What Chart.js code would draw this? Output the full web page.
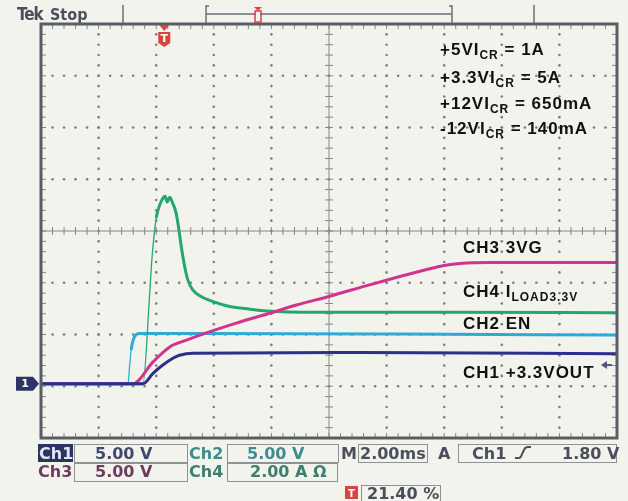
<!DOCTYPE html>
<html>
<head>
<meta charset="utf-8">
<script src="https://cdn.jsdelivr.net/npm/chart.js@4"></script>
<style>
  html, body { margin: 0; padding: 0; background: #f3f3ee; }
  #wrap { width: 628px; height: 501px; }
</style>
</head>
<body>
<div id="wrap"><canvas id="scope" width="628" height="501"></canvas></div>
<script>
// Captura del osciloscopio: tiempo en ms (2 ms/div), nivel en divisiones desde el centro
const groundLevel = -2.95;

const ch1Time  = [0, 3.54, 3.89, 4.23, 4.58, 4.81, 5.28, 11.07, 20];
const ch1Level = [-2.95, -2.95, -2.75, -2.59, -2.46, -2.40, -2.36, -2.35, -2.37];

const ch2Time  = [0, 3.02, 3.08, 3.13, 3.25, 3.42, 5.51, 12.46, 20];
const ch2Level = [-2.95, -2.95, -2.59, -2.30, -2.04, -1.98, -1.98, -1.99, -2.01];

const ch3Time  = [0, 3.19, 3.89, 4.47, 5.05, 5.74, 6.78, 8.00, 8.87, 10.03, 11.28, 12.46, 13.36, 13.95, 14.54, 15.59, 20];
const ch3Level = [-2.95, -2.95, -2.53, -2.24, -2.11, -1.97, -1.78, -1.58, -1.43, -1.26, -1.06, -0.88, -0.75, -0.67, -0.63, -0.61, -0.61];

const ch4Time  = [0, 3.54, 3.77, 3.84, 3.91, 4.00, 4.12, 4.24, 4.31, 4.38, 4.47, 4.57, 4.69, 4.79, 4.87, 4.99, 5.10, 5.27, 5.57, 5.86, 6.55, 7.25, 8.00, 9.99, 14.20, 20];
const ch4Level = [-2.95, -2.95, -1.24, -0.62, -0.17, 0.25, 0.50, 0.64, 0.67, 0.56, 0.65, 0.54, 0.35, 0.02, -0.30, -0.69, -0.95, -1.14, -1.27, -1.34, -1.46, -1.51, -1.55, -1.57, -1.57, -1.58];

// Textos de la pantalla
const limitLabels = [
    ["+5VI", "CR", " = 1A"],
    ["+3.3VI", "CR", " = 5A"],
    ["+12VI", "CR", " = 650mA"],
    ["-12VI", "CR", " = 140mA"]
];
const traceLabels = [
    ["CH3 3VG", "", ""],
    ["CH4 I", "LOAD3.3V", ""],
    ["CH2 EN", "", ""],
    ["CH1 +3.3VOUT", "", ""]
];
const statusRow1 = ["Ch1", "5.00 V", "Ch2", "5.00 V", "M", "2.00ms", "A", "Ch1", "1.80 V"];
const statusRow2 = ["Ch3", "5.00 V", "Ch4", "2.00 A \u03A9"];
const triggerPercent = 21.40;
const triggerVolts = 1.80;
const ch1VoltsPerDiv = 5;

function toPoints(times, levels) {
    return times.map((t, i) => ({ x: t, y: levels[i] }));
}

// Línea fina en los flancos rápidos de subida
function edgeWidth(ctx) {
    const dx = Math.abs(ctx.p1.x - ctx.p0.x);
    const dy = ctx.p0.y - ctx.p1.y;
    return (dy > 15 && dy > 3 * dx) ? 1.3 : undefined;
}

const FONT_LABEL = '"Liberation Sans", Arial, sans-serif';
const FONT_STATUS = '"DejaVu Sans", sans-serif';

function drawParts(ctx, parts, x, y, size, subSize) {
    ctx.save();
    ctx.letterSpacing = "1px";
    ctx.fillStyle = "#111";
    ctx.textBaseline = "alphabetic";
    ctx.textAlign = "left";
    parts.forEach((t, i) => {
        if (!t) return;
        const sub = i === 1;
        ctx.font = `bold ${sub ? subSize : size}px ${FONT_LABEL}`;
        ctx.fillText(t, x, y + (sub ? 4 : 0));
        x += ctx.measureText(t).width;
    });
    ctx.restore();
}

// Fondo y retícula del osciloscopio
const graticule = {
    id: "graticule",
    beforeDraw(chart) {
        const c = chart.ctx;
        c.save();
        c.fillStyle = "#f3f3ee";
        c.fillRect(0, 0, chart.width, chart.height);
        c.restore();
    },
    beforeDatasetsDraw(chart) {
        const c = chart.ctx;
        const xs = chart.scales.x, ys = chart.scales.y;
        const a = chart.chartArea;
        c.save();
        // puntos de la cuadrícula
        c.fillStyle = "#7d7d7d";
        const dot = (px, py) => {
            c.beginPath();
            c.arc(px, py, 1.3, 0, Math.PI * 2);
            c.fill();
        };
        for (let k = 1; k < 10; k++) {
            if (k === 5) continue;
            const px = xs.getPixelForValue(k * 2);
            for (let m = 1; m < 40; m++) dot(px, ys.getPixelForValue(-4 + m * 0.2));
        }
        for (let k = -3; k <= 3; k++) {
            if (k === 0) continue;
            const py = ys.getPixelForValue(k);
            for (let m = 1; m < 50; m++) dot(xs.getPixelForValue(m * 0.4), py);
        }
        // ejes centrales con marcas
        const cx = xs.getPixelForValue(10), cy = ys.getPixelForValue(0);
        c.strokeStyle = "#858585";
        c.lineWidth = 1;
        c.beginPath();
        c.moveTo(a.left, cy); c.lineTo(a.right, cy);
        c.moveTo(cx, a.top); c.lineTo(cx, a.bottom);
        for (let m = 1; m < 50; m++) {
            const px = xs.getPixelForValue(m * 0.4);
            c.moveTo(px, cy - 4); c.lineTo(px, cy + 4);
            c.moveTo(px, a.top); c.lineTo(px, a.top + 5);
            c.moveTo(px, a.bottom); c.lineTo(px, a.bottom - 5);
        }
        for (let m = 1; m < 40; m++) {
            const py = ys.getPixelForValue(-4 + m * 0.2);
            c.moveTo(cx - 4, py); c.lineTo(cx + 4, py);
            c.moveTo(a.left, py); c.lineTo(a.left + 5, py);
            c.moveTo(a.right, py); c.lineTo(a.right - 5, py);
        }
        c.stroke();
        c.restore();
    },
    afterDatasetsDraw(chart) {
        const c = chart.ctx;
        const a = chart.chartArea;
        const ys = chart.scales.y;
        c.save();
        // marco
        c.strokeStyle = "#5a5d63";
        c.lineWidth = 3;
        c.strokeRect(a.left, a.top, a.right - a.left, a.bottom - a.top);

        // textos de límites de corriente
        const limitY = [55, 83, 109, 134];
        limitLabels.forEach((p, i) => drawParts(c, p, 440, limitY[i], 17, 12));
        // etiquetas de canales
        const traceY = [253, 297, 329, 378];
        traceLabels.forEach((p, i) => drawParts(c, p, 463, traceY[i], 17, 12));

        // nivel de disparo (flecha a la derecha)
        const ty = ys.getPixelForValue(groundLevel + triggerVolts / ch1VoltsPerDiv);
        c.fillStyle = "#4b5787";
        c.strokeStyle = "#4b5787";
        c.lineWidth = 2;
        c.beginPath();
        c.moveTo(601, ty); c.lineTo(607, ty - 4); c.lineTo(607, ty + 4); c.closePath();
        c.fill();
        c.beginPath();
        c.moveTo(606, ty); c.lineTo(612, ty);
        c.stroke();

        // marcador de tierra del canal 1
        const gy = ys.getPixelForValue(groundLevel);
        c.fillStyle = "#2c3566";
        c.beginPath();
        c.moveTo(16, gy - 7); c.lineTo(33, gy - 7); c.lineTo(39, gy);
        c.lineTo(33, gy + 7); c.lineTo(16, gy + 7); c.closePath();
        c.fill();
        c.fillStyle = "#ffffff";
        c.font = `bold 11px ${FONT_STATUS}`;
        c.textAlign = "center";
        c.textBaseline = "middle";
        c.fillText("1", 25, gy + 0.5);

        // marcador T de disparo
        const tx = a.left + (a.right - a.left) * triggerPercent / 100;
        c.fillStyle = "#d9443c";
        c.beginPath();
        c.moveTo(tx - 5, a.top + 1); c.lineTo(tx + 5, a.top + 1); c.lineTo(tx, a.top + 7); c.closePath();
        c.fill();
        c.beginPath();
        c.moveTo(tx - 6, a.top + 8); c.lineTo(tx + 6, a.top + 8); c.lineTo(tx + 6, a.top + 19);
        c.lineTo(tx, a.top + 23); c.lineTo(tx - 6, a.top + 19); c.closePath();
        c.fill();
        c.fillStyle = "#ffffff";
        c.font = `bold 11px ${FONT_STATUS}`;
        c.fillText("T", tx, a.top + 15);
        c.restore();
    },
    afterDraw(chart) {
        const c = chart.ctx;
        c.save();
        // cabecera "Tek Stop"
        c.fillStyle = "#4a4f5a";
        c.textBaseline = "alphabetic";
        c.textAlign = "left";
        c.letterSpacing = "-1px";
        c.font = `bold 17px "DejaVu Sans Condensed", ${FONT_STATUS}`;
        c.fillText("Tek", 17, 20);
        c.letterSpacing = "0px";
        c.font = `bold 16px "DejaVu Sans Condensed", ${FONT_STATUS}`;
        c.fillText("Stop", 50, 20);

        c.strokeStyle = "#6b6f77";
        c.lineWidth = 1.5;
        c.beginPath();
        c.moveTo(123, 5); c.lineTo(123, 23);
        c.moveTo(534, 5); c.lineTo(534, 23);
        c.moveTo(209, 6); c.lineTo(206, 6); c.lineTo(206, 23);
        c.moveTo(206, 14); c.lineTo(452, 14);
        c.moveTo(449, 6); c.lineTo(452, 6); c.lineTo(452, 23);
        c.stroke();
        // T pequeña de la barra de registro
        c.fillStyle = "#d9443c";
        c.beginPath();
        c.moveTo(254, 7); c.lineTo(262, 7); c.lineTo(258, 11); c.closePath();
        c.fill();
        c.strokeStyle = "#d9443c";
        c.lineWidth = 1.5;
        c.strokeRect(255, 11, 6, 11);
        c.fillStyle = "#f3f3ee";
        c.fillRect(256, 12, 4, 9);

        // barra de estado
        const box = (x, y, w, h) => {
            c.strokeStyle = "#8e9197";
            c.lineWidth = 1;
            c.strokeRect(x + 0.5, y + 0.5, w, h);
        };
        const txt = (t, x, y, color) => {
            c.fillStyle = color;
            c.fillText(t, x, y);
        };
        c.font = `bold 16px ${FONT_STATUS}`;
        c.fillStyle = "#2b3461";
        c.fillRect(38, 444, 35, 18);
        txt(statusRow1[0], 39, 459, "#dfe6f5");
        box(74, 444, 113, 18);
        txt(statusRow1[1], 95, 459, "#3f4a6e");
        txt(statusRow1[2], 189, 459, "#3d8c8f");
        box(227, 444, 111, 18);
        txt(statusRow1[3], 247, 459, "#3d8c8f");
        txt(statusRow1[4], 341, 459, "#4a4f5c");
        box(358, 444, 69, 18);
        txt(statusRow1[5], 360, 459, "#4a4f5c");
        txt(statusRow1[6], 438, 459, "#4a4f5c");
        box(458, 444, 158, 18);
        txt(statusRow1[7], 472, 459, "#4a4f5c");
        txt(statusRow1[8], 562, 459, "#4a4f5c");
        c.strokeStyle = "#4a4f5c";
        c.lineWidth = 2;
        c.beginPath();
        c.moveTo(515, 458); c.lineTo(519, 458);
        c.quadraticCurveTo(521, 458, 522, 454);
        c.lineTo(524, 450);
        c.quadraticCurveTo(525, 447, 528, 447);
        c.lineTo(531, 447);
        c.stroke();

        txt(statusRow2[0], 38, 477, "#6b3d5e");
        box(74, 463, 113, 18);
        txt(statusRow2[1], 95, 477, "#6b3d5e");
        txt(statusRow2[2], 189, 477, "#3d7f6e");
        box(227, 463, 110, 18);
        txt(statusRow2[3], 250, 477, "#3d7f6e");

        // porcentaje de disparo
        c.fillStyle = "#d9443c";
        c.fillRect(345, 486, 13, 13);
        c.fillStyle = "#ffffff";
        c.font = `bold 10px ${FONT_STATUS}`;
        c.textAlign = "center";
        c.fillText("T", 351.5, 497);
        c.textAlign = "left";
        box(361, 485, 79, 17);
        c.font = `bold 16px ${FONT_STATUS}`;
        txt(triggerPercent.toFixed(2) + " %", 367, 499, "#4a4f5c");
        c.restore();
    }
};

const trace = (label, times, levels, color) => ({
    label: label,
    data: toPoints(times, levels),
    borderColor: color,
    borderWidth: 3,
    pointRadius: 0,
    cubicInterpolationMode: "monotone",
    fill: false,
    segment: { borderWidth: edgeWidth }
});

new Chart(document.getElementById("scope"), {
    type: "line",
    data: {
        datasets: [
            trace("CH1 +3.3VOUT", ch1Time, ch1Level, "#2e2f8c"),
            trace("CH3 3VG", ch3Time, ch3Level, "#d2338d"),
            trace("CH4 ILOAD3.3V", ch4Time, ch4Level, "#22a86c"),
            trace("CH2 EN", ch2Time, ch2Level, "#2fa9d6")
        ]
    },
    options: {
        responsive: false,
        animation: false,
        devicePixelRatio: 1,
        layout: { padding: { left: 41, top: 24, right: 11, bottom: 63 } },
        plugins: { legend: { display: false }, tooltip: { enabled: false } },
        scales: {
            x: { type: "linear", min: 0, max: 20, display: false },
            y: { type: "linear", min: -4, max: 4, display: false }
        }
    },
    plugins: [graticule]
});
</script>
</body>
</html>
